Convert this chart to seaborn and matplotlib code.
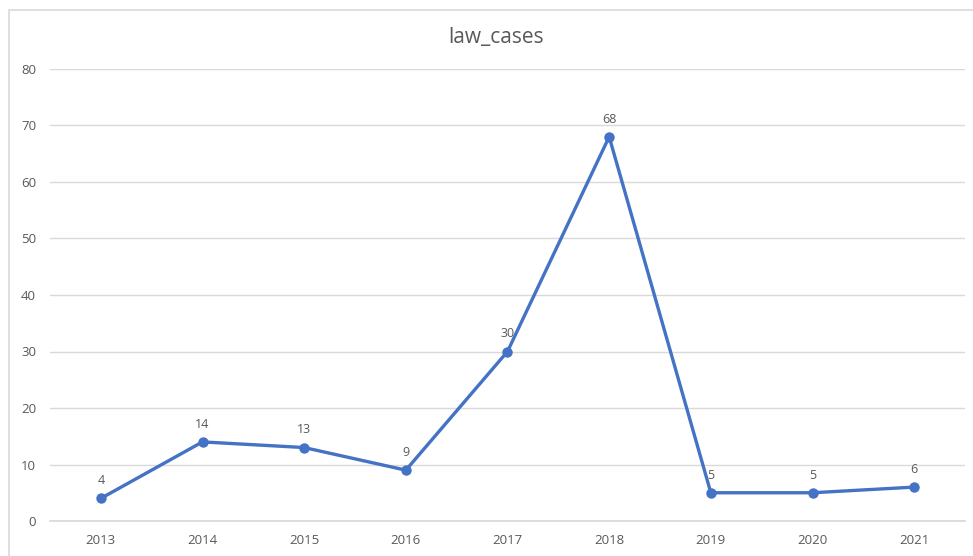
import matplotlib
matplotlib.use("Agg")
import matplotlib.pyplot as plt
from matplotlib.patches import Rectangle
import seaborn as sns
import pandas as pd

years = ["2013", "2014", "2015", "2016", "2017", "2018", "2019", "2020", "2021"]
cases = [4, 14, 13, 9, 30, 68, 5, 5, 6]
y_ticks = [0, 10, 20, 30, 40, 50, 60, 70, 80]

df = pd.DataFrame({"year": years, "law_cases": cases})

sns.set_theme(style="white")
plt.rcParams["font.family"] = ["Open Sans", "DejaVu Sans"]

text_color = "#595959"
grid_color = "#D9D9D9"
line_color = "#4472C4"

W, H = 973, 556
fig = plt.figure(figsize=(W / 100, H / 100), dpi=100)
ax = fig.add_axes([50 / W, 35 / H, 915 / W, 452 / H])

# chart-area border
fig.patches.append(Rectangle((9 / W, -0.1), 1.2, (H - 10) / H + 0.1,
                             transform=fig.transFigure, fill=False,
                             edgecolor=grid_color, linewidth=1.2))

sns.lineplot(data=df, x="year", y="law_cases", ax=ax, color=line_color,
             linewidth=2.4, marker="o", markersize=7.5, markeredgewidth=0,
             sort=False)

for i, v in enumerate(df["law_cases"]):
    ax.annotate(str(v), (i, v), xytext=(0, 8), textcoords="offset points",
                ha="center", va="bottom", fontsize=9, color=text_color)

ax.set_xlim(-0.5, len(years) - 0.5)
ax.set_ylim(0, 80)
ax.set_yticks(y_ticks)
ax.yaxis.grid(True, color=grid_color, linewidth=1)
ax.set_axisbelow(True)
for s in ax.spines.values():
    s.set_visible(False)
ax.spines["bottom"].set_visible(True)
ax.spines["bottom"].set_color(grid_color)
ax.tick_params(axis="both", length=0, labelsize=9.5, labelcolor=text_color)
ax.tick_params(axis="y", pad=10)
ax.tick_params(axis="x", pad=9)
ax.set_xlabel("")
ax.set_ylabel("")
fig.text((447 + 545) / 2 / W, 1 - 38 / H, "law_cases", ha="center",
         va="center", fontsize=15, color=text_color)

fig.savefig("out.png", dpi=100)
